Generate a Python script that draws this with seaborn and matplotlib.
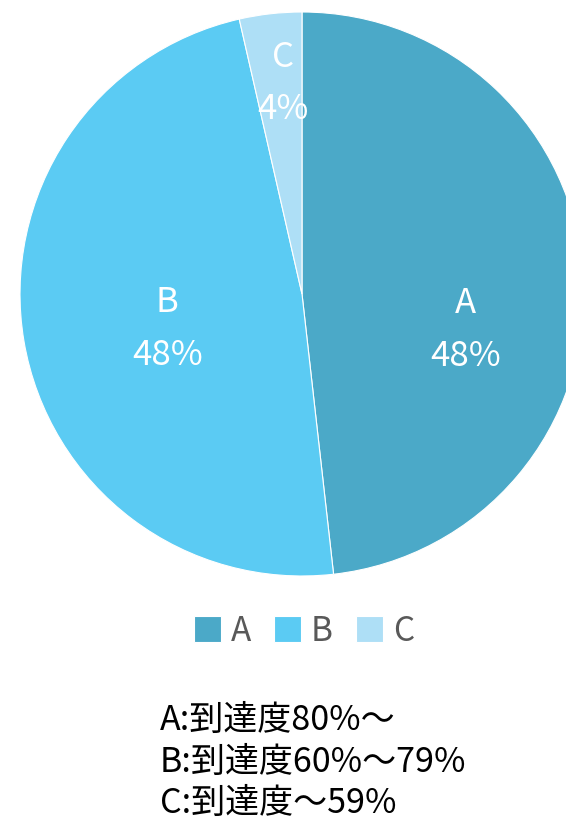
import matplotlib
matplotlib.use("Agg")
import matplotlib.pyplot as plt
import seaborn as sns
import numpy as np

# data
grades = ['A', 'B', 'C']
counts = [27, 27, 2]
pct_labels = ['48%', '48%', '4%']
colors = ['#4BA9C8', '#5BCBF3', '#AEDFF6']
notes = ['A:到達度80%～', 'B:到達度60%～79%', 'C:到達度～59%']

sns.set_theme(style="white")
plt.rcParams['font.family'] = ['Noto Sans CJK JP', 'DejaVu Sans']

fig = plt.figure(figsize=(5.66, 8.2), dpi=100)
ax = fig.add_axes([0, 0, 1, 1])

cx, cy, r = 302, 525, 282
wedges, _ = ax.pie(counts, colors=colors, startangle=90, counterclock=False,
                   center=(cx, cy), radius=r, frame=True,
                   wedgeprops=dict(edgecolor='white', linewidth=0.8))
ax.set_xlim(0, 566)
ax.set_ylim(0, 820)
ax.set_aspect('equal')
ax.axis('off')

# label positions (relative distance along mid-angle, shifts)
label_dist = [0.58, 0.485, 0.79]
label_dx = [0, 0, 6]
label_dy = [-44, -11, -10]
for w, g, p, d, sx, sy in zip(wedges, grades, pct_labels, label_dist, label_dx, label_dy):
    mid = np.deg2rad((w.theta1 + w.theta2) / 2)
    x = cx + r * d * np.cos(mid) + sx
    y = cy + r * d * np.sin(mid) + sy
    ax.text(x, y, g + '\n' + p, color='white', fontsize=25, ha='center', va='center',
            linespacing=1.65)

leg = ax.legend(wedges, grades, loc='center', bbox_to_anchor=(304 / 566, 1 - 632 / 820),
                ncol=3, frameon=False, fontsize=24, handlelength=0.8, handleheight=0.8,
                handletextpad=0.3, columnspacing=0.7, labelcolor='#595959')

fig.text(160 / 566, 1 - 762 / 820, '\n'.join(notes), fontsize=24.5, color='black',
         ha='left', va='center', linespacing=1.24)

fig.savefig('out.png', dpi=100)
